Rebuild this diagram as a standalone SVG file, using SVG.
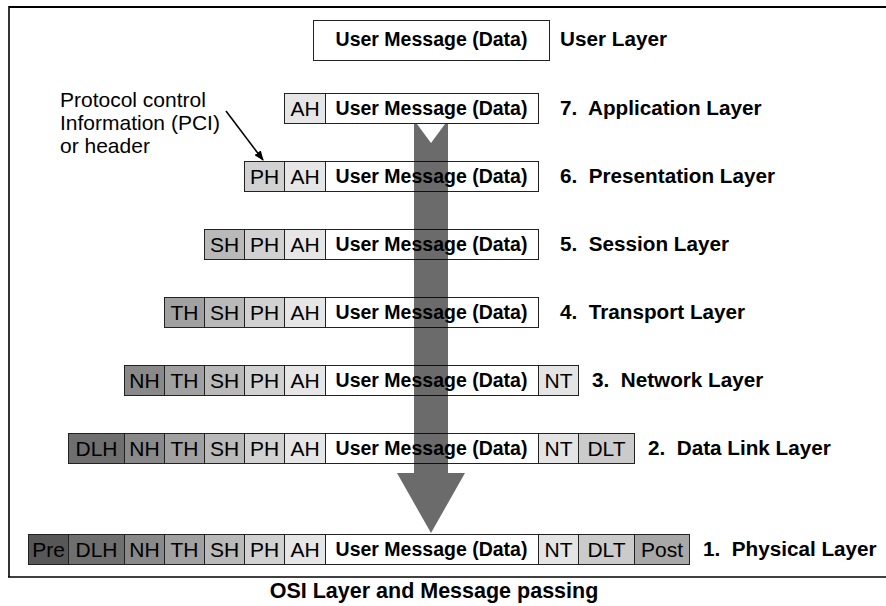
<svg xmlns="http://www.w3.org/2000/svg" width="886" height="606" viewBox="0 0 886 606">
<style>
  .c { stroke: #222; stroke-width: 1; }
  .msg { fill: #fff; }
  .h { font-family: "Liberation Sans", Arial, sans-serif; font-size: 21px; fill: #000; text-anchor: middle; }
  .m { font-family: "Liberation Sans", Arial, sans-serif; font-size: 19.5px; font-weight: bold; fill: #000; text-anchor: middle; }
  .lbl { font-family: "Liberation Sans", Arial, sans-serif; font-size: 20.7px; font-weight: bold; fill: #000; }
  .note { font-family: "Liberation Sans", Arial, sans-serif; font-size: 21px; fill: #000; }
  .cap { font-family: "Liberation Sans", Arial, sans-serif; font-size: 21.5px; font-weight: bold; fill: #000; text-anchor: middle; }
  .pre { fill: #575757; } .dlh { fill: #6f6f6f; } .nh { fill: #898989; } .th { fill: #a1a1a1; }
  .sh { fill: #b9b9b9; } .ph { fill: #d1d1d1; } .ah { fill: #e6e6e6; }
  .nt { fill: #e4e4e4; } .dlt { fill: #cbcbcb; } .post { fill: #a8a8a8; }
</style>
<defs>
  <marker id="ah" markerWidth="10" markerHeight="8" refX="9" refY="4" orient="auto" markerUnits="userSpaceOnUse">
    <path d="M0,0 L10,4 L0,8 Z" fill="#000"/>
  </marker>
</defs>

<rect x="0" y="0" width="886" height="606" fill="#fff"/>
<g id="frame" fill="none" stroke="#000">
  <path d="M886 7 H9" stroke-width="2"/>
  <path d="M9 6 V577" stroke-width="1.6"/>
  <path d="M8 577 H886" stroke-width="1.3"/>
</g>

<g id="user-layer">
  <rect class="c msg" x="313.5" y="20.5" width="236" height="40"/>
  <text class="m" x="431.5" y="46">User Message (Data)</text>
  <text class="lbl" x="560" y="46">User Layer</text>
</g>

<g id="layer7">
  <rect class="c ah" x="284.5" y="93.5" width="41" height="30"/>
  <rect class="c msg" x="325.5" y="93.5" width="213" height="30"/>
  <text class="h" x="305" y="116">AH</text>
  <text class="m" x="431.5" y="115">User Message (Data)</text>
  <text class="lbl" x="560" y="115">7.&#160; Application Layer</text>
</g>

<g id="layer6">
  <rect class="c ph" x="244.5" y="161.5" width="40" height="30"/>
  <rect class="c ah" x="284.5" y="161.5" width="41" height="30"/>
  <rect class="c msg" x="325.5" y="161.5" width="213" height="30"/>
  <text class="h" x="264.5" y="184">PH</text>
  <text class="h" x="305" y="184">AH</text>
  <text class="m" x="431.5" y="183">User Message (Data)</text>
  <text class="lbl" x="560" y="183">6.&#160; Presentation Layer</text>
</g>

<g id="layer5">
  <rect class="c sh" x="204.5" y="229.5" width="40" height="30"/>
  <rect class="c ph" x="244.5" y="229.5" width="40" height="30"/>
  <rect class="c ah" x="284.5" y="229.5" width="41" height="30"/>
  <rect class="c msg" x="325.5" y="229.5" width="213" height="30"/>
  <text class="h" x="224.5" y="252">SH</text>
  <text class="h" x="264.5" y="252">PH</text>
  <text class="h" x="305" y="252">AH</text>
  <text class="m" x="431.5" y="251">User Message (Data)</text>
  <text class="lbl" x="560" y="251">5.&#160; Session Layer</text>
</g>

<g id="layer4">
  <rect class="c th" x="164.5" y="297.5" width="40" height="30"/>
  <rect class="c sh" x="204.5" y="297.5" width="40" height="30"/>
  <rect class="c ph" x="244.5" y="297.5" width="40" height="30"/>
  <rect class="c ah" x="284.5" y="297.5" width="41" height="30"/>
  <rect class="c msg" x="325.5" y="297.5" width="213" height="30"/>
  <text class="h" x="184.5" y="320">TH</text>
  <text class="h" x="224.5" y="320">SH</text>
  <text class="h" x="264.5" y="320">PH</text>
  <text class="h" x="305" y="320">AH</text>
  <text class="m" x="431.5" y="319">User Message (Data)</text>
  <text class="lbl" x="560" y="319">4.&#160; Transport Layer</text>
</g>

<g id="layer3">
  <rect class="c nh" x="124.5" y="365.5" width="40" height="30"/>
  <rect class="c th" x="164.5" y="365.5" width="40" height="30"/>
  <rect class="c sh" x="204.5" y="365.5" width="40" height="30"/>
  <rect class="c ph" x="244.5" y="365.5" width="40" height="30"/>
  <rect class="c ah" x="284.5" y="365.5" width="41" height="30"/>
  <rect class="c msg" x="325.5" y="365.5" width="213" height="30"/>
  <rect class="c nt" x="538.5" y="365.5" width="40" height="30"/>
  <text class="h" x="144.5" y="388">NH</text>
  <text class="h" x="184.5" y="388">TH</text>
  <text class="h" x="224.5" y="388">SH</text>
  <text class="h" x="264.5" y="388">PH</text>
  <text class="h" x="305" y="388">AH</text>
  <text class="m" x="431.5" y="387">User Message (Data)</text>
  <text class="h" x="558.5" y="388">NT</text>
  <text class="lbl" x="592" y="387">3.&#160; Network Layer</text>
</g>

<g id="layer2">
  <rect class="c dlh" x="68.5" y="433.5" width="56" height="30"/>
  <rect class="c nh" x="124.5" y="433.5" width="40" height="30"/>
  <rect class="c th" x="164.5" y="433.5" width="40" height="30"/>
  <rect class="c sh" x="204.5" y="433.5" width="40" height="30"/>
  <rect class="c ph" x="244.5" y="433.5" width="40" height="30"/>
  <rect class="c ah" x="284.5" y="433.5" width="41" height="30"/>
  <rect class="c msg" x="325.5" y="433.5" width="213" height="30"/>
  <rect class="c nt" x="538.5" y="433.5" width="40" height="30"/>
  <rect class="c dlt" x="578.5" y="433.5" width="56" height="30"/>
  <text class="h" x="96.5" y="456">DLH</text>
  <text class="h" x="144.5" y="456">NH</text>
  <text class="h" x="184.5" y="456">TH</text>
  <text class="h" x="224.5" y="456">SH</text>
  <text class="h" x="264.5" y="456">PH</text>
  <text class="h" x="305" y="456">AH</text>
  <text class="m" x="431.5" y="455">User Message (Data)</text>
  <text class="h" x="558.5" y="456">NT</text>
  <text class="h" x="606.5" y="456">DLT</text>
  <text class="lbl" x="648" y="455">2.&#160; Data Link Layer</text>
</g>

<g id="layer1">
  <rect class="c pre" x="28.5" y="534.5" width="40" height="30"/>
  <rect class="c dlh" x="68.5" y="534.5" width="56" height="30"/>
  <rect class="c nh" x="124.5" y="534.5" width="40" height="30"/>
  <rect class="c th" x="164.5" y="534.5" width="40" height="30"/>
  <rect class="c sh" x="204.5" y="534.5" width="40" height="30"/>
  <rect class="c ph" x="244.5" y="534.5" width="40" height="30"/>
  <rect class="c ah" x="284.5" y="534.5" width="41" height="30"/>
  <rect class="c msg" x="325.5" y="534.5" width="213" height="30"/>
  <rect class="c nt" x="538.5" y="534.5" width="40" height="30"/>
  <rect class="c dlt" x="578.5" y="534.5" width="56" height="30"/>
  <rect class="c post" x="634.5" y="534.5" width="55" height="30"/>
  <text class="h" x="48.5" y="557">Pre</text>
  <text class="h" x="96.5" y="557">DLH</text>
  <text class="h" x="144.5" y="557">NH</text>
  <text class="h" x="184.5" y="557">TH</text>
  <text class="h" x="224.5" y="557">SH</text>
  <text class="h" x="264.5" y="557">PH</text>
  <text class="h" x="305" y="557">AH</text>
  <text class="m" x="431.5" y="556">User Message (Data)</text>
  <text class="h" x="558.5" y="557">NT</text>
  <text class="h" x="606.5" y="557">DLT</text>
  <text class="h" x="662" y="557">Post</text>
  <text class="lbl" x="703" y="556">1.&#160; Physical Layer</text>
</g>

<g id="pci-note">
  <text class="note" x="60" y="107">Protocol control</text>
  <text class="note" x="60" y="130">Information (PCI)</text>
  <text class="note" x="60" y="153">or header</text>
</g>

<g id="connectors">
  <line x1="226" y1="111" x2="263" y2="160" stroke="#000" stroke-width="1.6" marker-end="url(#ah)"/>
  <path d="M414 124 L417 124 L431 143 L445 124 L448 124 L448 473 L465 473 L431 533 L397 473 L414 473 Z" fill="#000" fill-opacity="0.58"/>
</g>

<text class="cap" x="434" y="598">OSI Layer and Message passing</text>
</svg>
